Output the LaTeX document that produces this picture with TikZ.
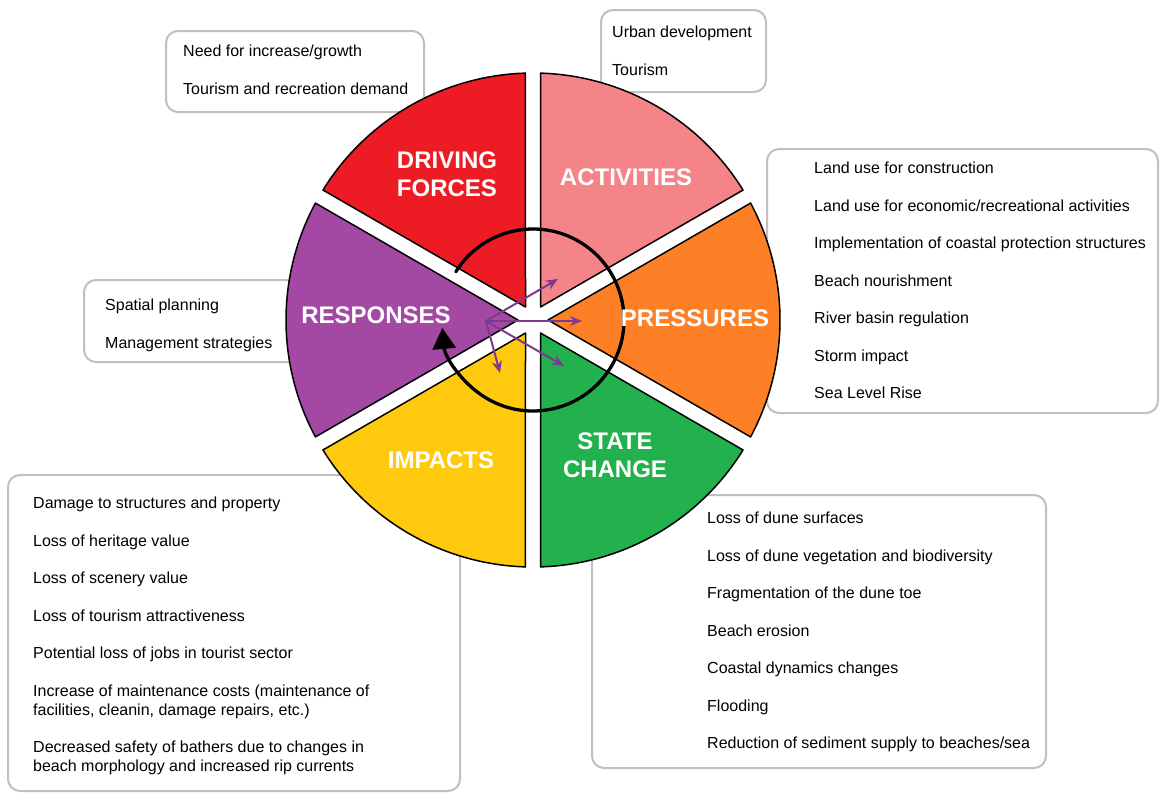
\documentclass[tikz,border=0pt]{standalone}
\usepackage{fontspec}
\setmainfont{Liberation Sans}
\usetikzlibrary{arrows.meta}
\definecolor{dfred}{RGB}{237,28,36}
\definecolor{actpink}{RGB}{245,132,137}
\definecolor{prsorange}{RGB}{253,128,39}
\definecolor{stcgreen}{RGB}{34,177,76}
\definecolor{impyellow}{RGB}{255,201,14}
\definecolor{rsppurple}{RGB}{163,73,164}
\definecolor{linkpurple}{RGB}{125,58,145}
\definecolor{boxgray}{RGB}{192,192,192}
\tikzset{
    listbox/.style={draw=boxgray,line width=2pt,rounded corners=12pt,fill=white},
    listtext/.style={anchor=north west,align=left,inner sep=0pt,
        font=\fontsize{16}{18.75}\selectfont},
    sector/.style={draw=black,line width=1.5pt},
    sectorlabel/.style={text=white,align=center,inner sep=0pt,
        font=\fontsize{24}{28}\selectfont\bfseries},
    link/.style={linkpurple,line width=2pt,-{Stealth[length=12pt,width=10pt]}}
}
% blank line between two entries of a list
\newcommand{\itemskip}{\\[18.75pt]}

\begin{document}
\begin{tikzpicture}[x=1pt,y=1pt,line cap=round,line join=round]
    \useasboundingbox (0,0) rectangle (1160,-793);
    \fill[white] (0,0) rectangle (1160,-793);
    % lists behind the wheel
    \draw[listbox] (166,-31) rectangle (424,-112);
    \draw[listbox] (601,-10) rectangle (766,-92);
    \draw[listbox] (767,-149) rectangle (1158,-413);
    \draw[listbox] (84,-280) rectangle (300,-362);
    \draw[listbox] (8,-475) rectangle (460,-791);
    \draw[listbox] (592,-495) rectangle (1046,-768);
    % the six wedges, pulled apart by the white gaps
    \coordinate (C) at (533,-320);
    \begin{scope}[shift={(C)}]
        \foreach \a/\col in {90/dfred,30/actpink,-30/prsorange,
                             -90/stcgreen,-150/impyellow,150/rsppurple}
            \filldraw[sector,fill=\col] ({\a+30}:15) -- ({\a+1.75}:247)
                arc[start angle=\a+1.75,end angle=\a+58.25,radius=247] -- cycle;
    \end{scope}
    % cycle arrow
    \draw[line width=3.3pt,-{Triangle[length=21pt,width=23pt]}]
        (C) ++(148:91) arc[start angle=148,end angle=-175,radius=91];
    % links from responses
    \coordinate (hub) at (486,-321);
    \coordinate (toAct) at (558,-279);
    \coordinate (toPrs) at (582,-321);
    \coordinate (toStc) at (564,-366);
    \coordinate (toImp) at (500,-373);
    \foreach \t in {toAct,toPrs,toStc,toImp}
        \draw[link] (hub) -- (\t);
    % wedge titles
    \node[sectorlabel] (drvLabel) at (447,-174) {DRIVING\\FORCES};
    \node[sectorlabel] (actLabel) at (626,-177) {ACTIVITIES};
    \node[sectorlabel] (prsLabel) at (695,-318) {PRESSURES};
    \node[sectorlabel] (stcLabel) at (615,-455) {STATE\\CHANGE};
    \node[sectorlabel] (impLabel) at (441,-460) {IMPACTS};
    \node[sectorlabel] (rspLabel) at (376,-315) {RESPONSES};
    % list entries
    \node[listtext] (drvList) at (183,-45) {Need for increase/growth\itemskip
        Tourism and recreation demand};
    \node[listtext] (actList) at (612,-26) {Urban development\itemskip Tourism};
    \node[listtext] (rspList) at (105,-299) {Spatial planning\itemskip
        Management strategies};
    \node[listtext] (prsList) at (814,-162) {Land use for construction\itemskip
        Land use for economic/recreational activities\itemskip
        Implementation of coastal protection structures\itemskip
        Beach nourishment\itemskip
        River basin regulation\itemskip
        Storm impact\itemskip
        Sea Level Rise};
    \node[listtext] (impList) at (33,-497) {Damage to structures and property\itemskip
        Loss of heritage value\itemskip
        Loss of scenery value\itemskip
        Loss of tourism attractiveness\itemskip
        Potential loss of jobs in tourist sector\itemskip
        Increase of maintenance costs (maintenance of\\
        facilities, cleanin, damage repairs, etc.)\itemskip
        Decreased safety of bathers due to changes in\\
        beach morphology and increased rip currents};
    \node[listtext] (stcList) at (707,-512) {Loss of dune surfaces\itemskip
        Loss of dune vegetation and biodiversity\itemskip
        Fragmentation of the dune toe\itemskip
        Beach erosion\itemskip
        Coastal dynamics changes\itemskip
        Flooding\itemskip
        Reduction of sediment supply to beaches/sea};
\end{tikzpicture}
\end{document}
